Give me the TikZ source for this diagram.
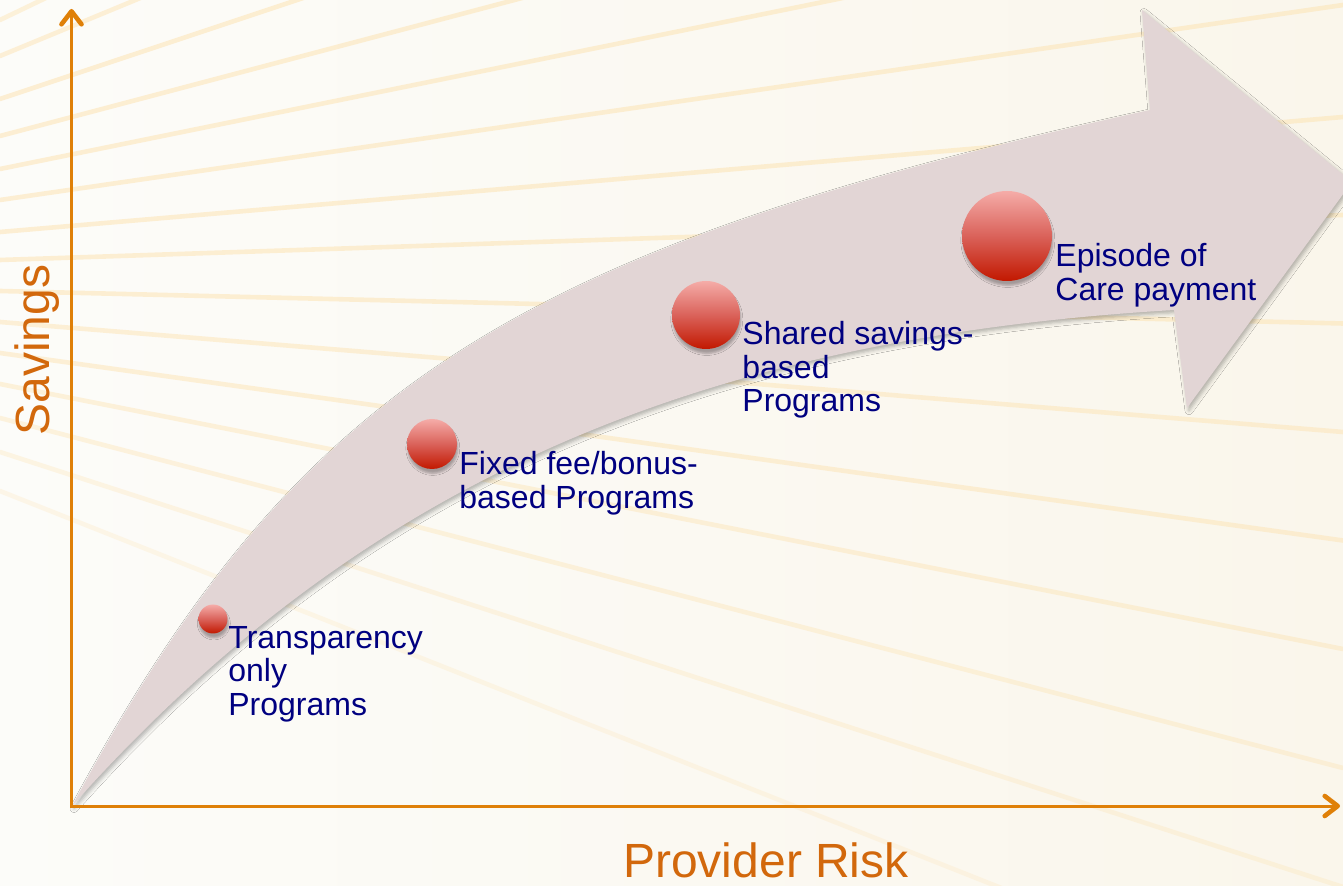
\documentclass[tikz,border=0pt]{standalone}
\usepackage{fontspec}
\setmainfont{Liberation Sans}
\usetikzlibrary{arrows.meta,shadows.blur}

\definecolor{bgL}{RGB}{252,252,249}
\definecolor{bgR}{RGB}{250,246,235}
\definecolor{raycol}{RGB}{252,228,180}
\definecolor{bandcol}{RGB}{226,213,213}
\definecolor{axiscol}{RGB}{223,128,8}
\definecolor{axlabcol}{RGB}{210,104,12}
\definecolor{navytext}{RGB}{0,0,128}
\definecolor{sphTop}{RGB}{245,172,168}
\definecolor{sphMid}{RGB}{218,98,90}
\definecolor{sphBot}{RGB}{194,24,0}

\tikzset{
  rayline/.style={draw=raycol, line width=2.3pt, line cap=round},
  bandfill/.style={fill=bandcol,
    blur shadow={shadow xshift=1pt, shadow yshift=-1.3pt,
                 shadow blur radius=2pt, shadow opacity=30}},
  sphere/.style={circle, inner sep=0pt, draw=none,
    top color=sphTop, bottom color=sphBot, middle color=sphMid,
    blur shadow={shadow xshift=0.4pt, shadow yshift=-2.2pt,
                 shadow blur radius=1pt, shadow opacity=28}},
  lbl/.style={anchor=north west, inner sep=0pt, align=left,
    text=navytext, font=\fontsize{16}{16.75}\selectfont},
  axisline/.style={draw=axiscol, line width=1.5pt,
    {Straight Barb[length=6.5pt, width=10pt, line width=2.3pt, round]}-{Straight Barb[length=6.5pt, width=10pt, line width=2.3pt, round]}},
  axlab/.style={inner sep=0pt, text=axlabcol, font=\fontsize{24}{28}\selectfont}
}

\begin{document}
\begin{tikzpicture}[x=0.5pt, y=-0.5pt]
  % page background
  \shade[left color=bgL, right color=bgR] (0,0) rectangle (1343,886);
  \useasboundingbox (0,0) rectangle (1343,886);

  % light rays fanning out to the right, fainter towards the bottom
  \begin{scope}
    \clip (0,0) rectangle (1343,886);
    \foreach \L/\op in {20/0.45,56/0.5,99/0.55,136/0.55,169/0.55,200/0.55,232/0.55,
                        260/0.55,291/0.55,322/0.5,353/0.5,384/0.45,418/0.4,452/0.32,491/0.25} {
      \pgfmathsetmacro\R{278+(\L-278)*3.5}
      \draw[rayline, opacity=\op] (0,\L) -- (1343,\R);
    }
  \end{scope}

  % curved progression arrow
  \path[bandfill] (72,806) .. controls (297,389) and (512,250) .. (1150,110)
     -- (1142,10) -- (1352,182) -- (1187,408) -- (1174,310)
     .. controls (686,339) and (356,488) .. (72,806) -- cycle;

  % program stages
  \node[sphere, minimum size=14.5pt] (s1) at (213,619) {};
  \node[sphere, minimum size=25pt]   (s2) at (432,444) {};
  \node[sphere, minimum size=34pt]   (s3) at (706,315) {};
  \node[sphere, minimum size=45pt]   (s4) at (1007,236) {};

  \node[lbl] (t1) at (228,626) {Transparency\\only\\Programs};
  \node[lbl] (t2) at (459,451) {Fixed fee/bonus-\\based Programs};
  \node[lbl] (t3) at (742,321) {Shared savings-\\based\\Programs};
  \node[lbl] (t4) at (1055,243) {Episode of\\Care payment};

  % axes
  \coordinate (O) at (71.5,806);
  \coordinate (ytop) at (71.5,9);
  \coordinate (xend) at (1340,806);
  \draw[axisline] (ytop) -- (O) -- (xend);

  \node[axlab, rotate=90, anchor=base] (ylab) at (49,350) {Savings};
  \node[axlab, anchor=base] (xlab) at (766,877) {Provider Risk};
\end{tikzpicture}
\end{document}
